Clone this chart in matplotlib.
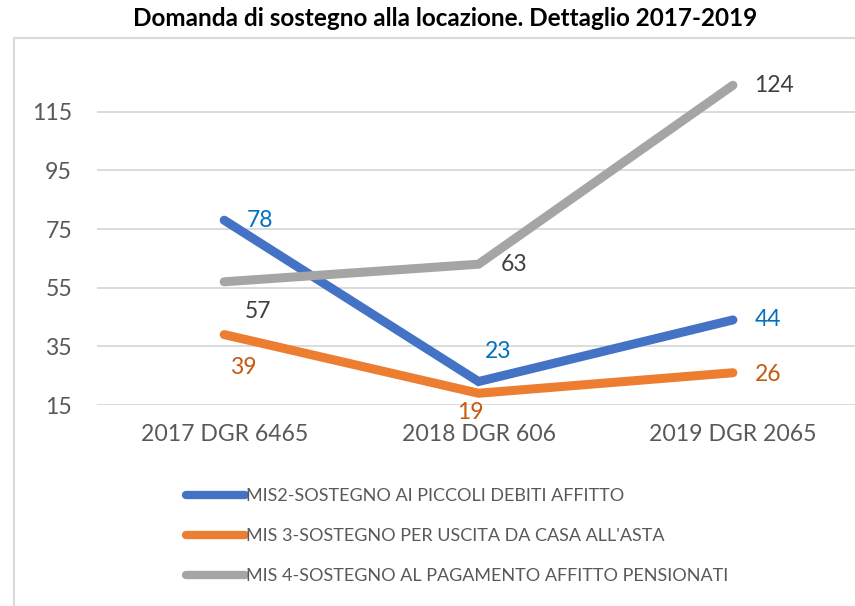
import matplotlib.pyplot as plt
from matplotlib.lines import Line2D

plt.rcParams['font.family'] = ['Lato', 'DejaVu Sans']

categories = ['2017 DGR 6465', '2018 DGR 606', '2019 DGR 2065']
mis2 = [78, 23, 44]
mis3 = [39, 19, 26]
mis4 = [57, 63, 124]
series_names = ['MIS2-SOSTEGNO AI PICCOLI DEBITI AFFITTO',
                'MIS 3-SOSTEGNO PER USCITA DA CASA ALL\'ASTA',
                'MIS 4-SOSTEGNO AL PAGAMENTO AFFITTO PENSIONATI']
yticks = [15, 35, 55, 75, 95, 115]

line_colors = ['#4472C4', '#ED7D31', '#A5A5A5']
label_colors = ['#0070C0', '#C55A11', '#404040']
# label offsets in pixels (dx, dy up)
offsets = [
    [(36, 0), (20, 30), (35, 0)],
    [(19, -33), (-8, -19), (35, -2)],
    [(34, -30), (36, 0), (41, 0)],
]

W, H = 855, 606
fig = plt.figure(figsize=(W / 100, H / 100), dpi=100)
ax = fig.add_axes([97 / W, 1 - 405 / H, (855 - 97) / W, (405 - 53) / H])

x = list(range(len(categories)))
handles = []
for i, vals in enumerate([mis2, mis3, mis4]):
    h, = ax.plot(x, vals, color=line_colors[i], lw=6.5,
                 solid_capstyle='round', solid_joinstyle='miter',
                 label=series_names[i], zorder=3)
    handles.append(h)
    for j, v in enumerate(vals):
        dx, dy = offsets[i][j]
        ax.annotate(str(v), (x[j], v), xytext=(dx * 0.72, dy * 0.72),
                    textcoords='offset points', ha='center', va='center',
                    fontsize=16.5, color=label_colors[i], zorder=4)

ax.set_xlim(-0.5, 2.48)
ax.set_ylim(15, 135)
ax.set_yticks(yticks)
ax.set_xticks(x)
ax.set_xticklabels(categories)
ax.grid(axis='y', color='#D9D9D9', lw=1.3)
ax.set_axisbelow(True)
for s in ax.spines.values():
    s.set_visible(False)
ax.tick_params(axis='both', length=0, labelsize=16.6, colors='#595959')
ax.tick_params(axis='y', pad=18)
ax.tick_params(axis='x', pad=14)

fig.text(445 / W, 1 - 19 / H, 'Domanda di sostegno alla locazione. Dettaglio 2017-2019',
         ha='center', va='center', fontsize=17.5, fontweight='bold', color='black')

# chart frame (left and top edges visible)
fig.add_artist(Line2D([14 / W, 14 / W], [0, 1 - 38 / H], color='#D9D9D9', lw=1.5))
fig.add_artist(Line2D([14 / W, 1], [1 - 38 / H, 1 - 38 / H], color='#D9D9D9', lw=1.5))

leg = fig.legend(handles=handles, loc='upper left',
                 bbox_to_anchor=(170 / W, 1 - 472 / H), frameon=False,
                 fontsize=13, handlelength=3.25, handletextpad=0.05,
                 labelspacing=1.33, labelcolor='#595959')
for lh in leg.get_lines():
    lh.set_linewidth(6)
    lh.set_solid_capstyle('round')

fig.savefig('out.png', dpi=100)
